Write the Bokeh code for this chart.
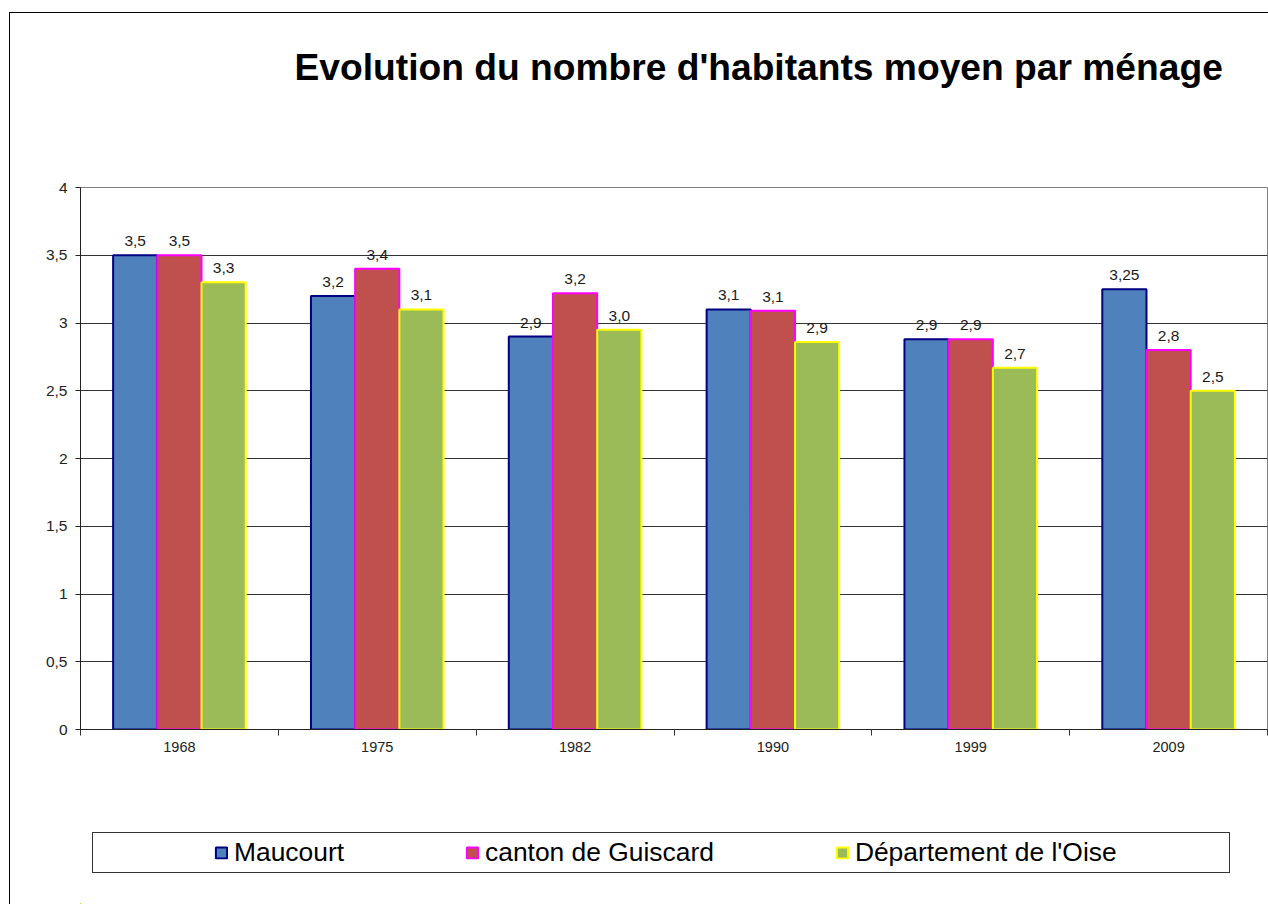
from bokeh.plotting import figure
from bokeh.layouts import column
from bokeh.models import (ColumnDataSource, Range1d, FixedTicker, Legend, LegendItem,
                          Title, InlineStyleSheet)
from bokeh.transform import dodge
from bokeh.core.properties import value
from bokeh.embed import file_html
from bokeh.resources import INLINE

# ---------------- data ----------------
years = ["1968", "1975", "1982", "1990", "1999", "2009"]
maucourt = [3.5, 3.2, 2.9, 3.1, 2.88, 3.25]
canton = [3.5, 3.4, 3.22, 3.09, 2.88, 2.8]
oise = [3.3, 3.1, 2.95, 2.86, 2.67, 2.5]
maucourt_labels = ["3,5", "3,2", "2,9", "3,1", "2,9", "3,25"]
canton_labels = ["3,5", "3,4", "3,2", "3,1", "2,9", "2,8"]
oise_labels = ["3,3", "3,1", "3,0", "2,9", "2,7", "2,5"]
series_names = ["Maucourt", "canton de Guiscard", "Département de l'Oise"]
y_ticks = [0, 0.5, 1, 1.5, 2, 2.5, 3, 3.5, 4]
title_text = "Evolution du nombre d'habitants moyen par ménage"

FONT = "Liberation Sans"
n = len(years)
pos = [i + 0.5 for i in range(n)]

source = ColumnDataSource(dict(
    x=pos, maucourt=maucourt, canton=canton, oise=oise,
    maucourt_lbl=maucourt_labels, canton_lbl=canton_labels, oise_lbl=oise_labels,
))

frames_css = InlineStyleSheet(css="""
:host { position: relative; }
:host::before {
  content: ""; position: absolute; left: 9px; top: 12px; width: 1259px; height: 892px;
  border-left: 1px solid #000; border-top: 1px solid #000; box-sizing: border-box;
  pointer-events: none; z-index: 10;
}
:host::after {
  content: ""; position: absolute; left: 92px; top: 832px; width: 1138px; height: 41px;
  border: 1px solid #333; box-sizing: border-box; pointer-events: none; z-index: 10;
}
""")

w = 0.2234
fills = ["#4F81BD", "#C0504D", "#9BBB59"]
lines = ["#000080", "#FF00FF", "#FFFF00"]
cols = ["maucourt", "canton", "oise"]
offsets = [-w, 0, w]

# ---------------- main chart ----------------
p = figure(width=1268, height=800, x_range=Range1d(0, n), y_range=Range1d(0, 4),
           output_backend="svg", toolbar_location=None,
           min_border_left=80, min_border_right=1, min_border_top=187, min_border_bottom=71,
           background_fill_color="white", border_fill_color="white",
           outline_line_color="#808080", outline_line_width=1)

p.title = Title(text=title_text, text_font=FONT, text_font_size="37.2px",
                text_font_style="bold", text_color="black", align="left",
                offset=214, standoff=0)
# spacer between the title and the plot area
p.add_layout(Title(text=" ", text_font_size="1px", standoff=97), "above")

p.xaxis.ticker = FixedTicker(ticks=pos, minor_ticks=list(range(n + 1)))
p.xaxis.major_label_overrides = {pos[i]: years[i] for i in range(n)}
p.xaxis.major_tick_in = 0
p.xaxis.major_tick_out = 0
p.xaxis.minor_tick_in = 0
p.xaxis.minor_tick_out = 6
p.xaxis.minor_tick_line_color = "#333333"
p.xaxis.axis_line_color = "#222222"
p.xaxis.major_label_standoff = 6
p.xaxis.major_label_text_font = FONT
p.xaxis.major_label_text_font_size = "14.5px"
p.xaxis.major_label_text_color = "#222222"

p.yaxis.ticker = FixedTicker(ticks=y_ticks)
p.yaxis.major_label_overrides = {t: f"{t:g}".replace(".", ",") for t in y_ticks}
p.yaxis.major_tick_in = 0
p.yaxis.major_tick_out = 5
p.yaxis.major_tick_line_color = "#222222"
p.yaxis.minor_tick_line_color = None
p.yaxis.axis_line_color = "#222222"
p.yaxis.major_label_standoff = 8
p.yaxis.major_label_text_font = FONT
p.yaxis.major_label_text_font_size = "15.5px"
p.yaxis.major_label_text_color = "#222222"

p.xgrid.visible = False
p.ygrid.ticker = FixedTicker(ticks=y_ticks[1:-1])
p.ygrid.grid_line_color = "#333333"
p.ygrid.grid_line_width = 1

for col, off, fc, lc in zip(cols, offsets, fills, lines):
    p.vbar(x=dodge("x", off, range=p.x_range), top=col, width=w, bottom=0,
           source=source, fill_color=fc, line_color=lc, line_width=2)
    p.text(x=dodge("x", off, range=p.x_range), y=col, text=col + "_lbl", source=source,
           text_align="center", text_baseline="alphabetic", y_offset=-14,
           text_font=value(FONT), text_font_size="15.5px", text_color="#1a1a1a")

# ---------------- legend strip (same series, ranges set so bars stay out of view) ----------------
pl = figure(width=1268, height=104, x_range=Range1d(100, 101), y_range=Range1d(100, 101),
            output_backend="svg", toolbar_location=None,
            x_axis_location=None, y_axis_location=None,
            min_border=0, min_border_left=0, min_border_right=0,
            min_border_top=0, min_border_bottom=0,
            background_fill_color="white", border_fill_color="white",
            outline_line_color=None)
pl.grid.visible = False
items = []
for nm, col, off, fc, lc in zip(series_names, cols, offsets, fills, lines):
    r = pl.vbar(x=dodge("x", off, range=pl.x_range), top=col, width=w, bottom=0,
                source=source, fill_color=fc, line_color=lc, line_width=2)
    items.append(LegendItem(label=nm, renderers=[r]))

legend = Legend(items=items, orientation="horizontal", location="left", margin=134,
                border_line_color=None, background_fill_alpha=0,
                padding=0, spacing=121,
                glyph_width=14, glyph_height=14, label_standoff=6,
                label_text_font=FONT, label_text_font_size="26.4px", label_text_color="black")
pl.add_layout(legend)

layout = column(p, pl, spacing=0, stylesheets=[frames_css])

open("out.html", "w").write(file_html(layout, INLINE))
